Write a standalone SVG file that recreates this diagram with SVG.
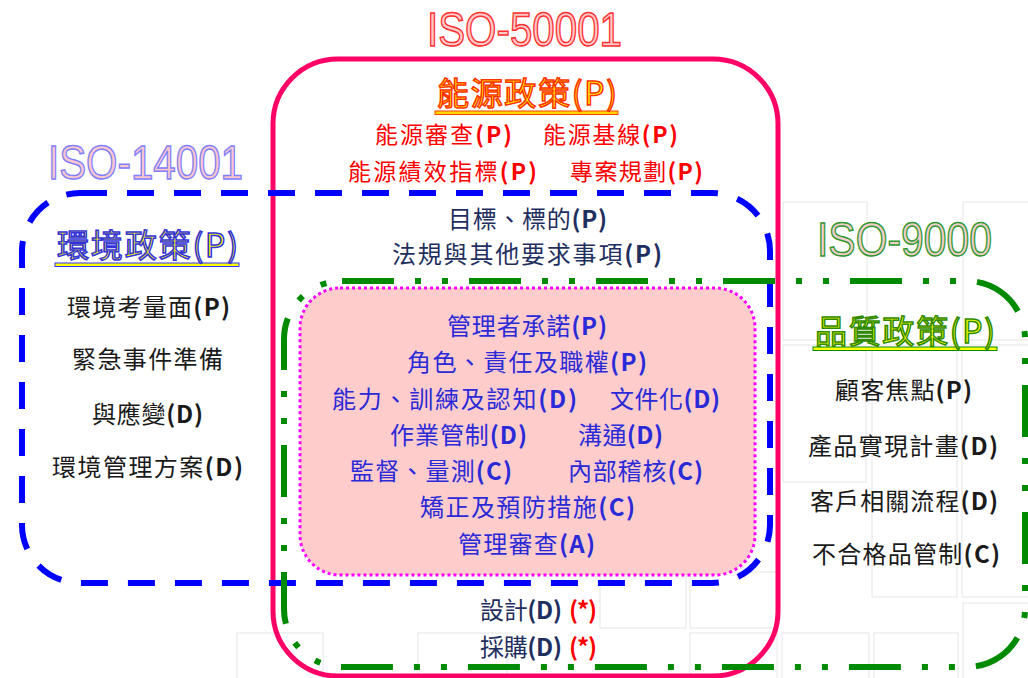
<svg xmlns="http://www.w3.org/2000/svg" width="1028" height="678" viewBox="0 0 1028 678">
<style>
.t{font-family:"Noto Sans CJK TC","Noto Sans CJK SC",sans-serif;font-size:24px}
.t tspan{font-weight:bold}
.big{font-family:"Liberation Sans",Arial,sans-serif;font-size:48px}
.head{font-family:"Noto Sans CJK TC","Noto Sans CJK SC",sans-serif;font-size:32px;fill:#FFFF00;stroke-width:1.5}
.red{fill:#FF0000}
.navy{fill:#1F2F60}
.blk{fill:#1a1a1a}
.blu{fill:#2A2AD8}
.grid{fill:none;stroke:#eeeeee;stroke-width:1.5}
</style>
<rect width="1028" height="678" fill="#FFFFFF"/>
<g id="background-grid">
<rect class="grid" x="783" y="202" width="84" height="138"/>
<rect class="grid" x="963" y="202" width="70" height="138"/>
<rect class="grid" x="783" y="345" width="83" height="137"/>
<rect class="grid" x="872" y="345" width="85" height="252"/>
<rect class="grid" x="962" y="345" width="70" height="252"/>
<rect class="grid" x="600" y="572" width="86" height="56" fill="#f4f3f2"/>
<rect class="grid" x="690" y="572" width="87" height="56"/>
<rect class="grid" x="237" y="633" width="86" height="50"/>
<rect class="grid" x="418" y="633" width="89" height="50"/>
<rect class="grid" x="690" y="633" width="87" height="50"/>
<rect class="grid" x="782" y="633" width="87" height="50"/>
<rect class="grid" x="874" y="633" width="84" height="50"/>
<rect class="grid" x="963" y="603" width="70" height="80"/>
</g>
<g id="connectors">
<rect id="iso50001-frame" x="273" y="59" width="505" height="617" rx="65" ry="65" fill="none" stroke="#FF0066" stroke-width="5"/>
<rect id="iso14001-frame" x="22" y="193" width="748" height="390" rx="58" ry="58" fill="none" stroke="#0000FF" stroke-width="6" stroke-dasharray="27 20"/>
<rect id="iso9000-frame" x="284" y="281" width="741" height="386" rx="58" ry="58" fill="none" stroke="#008A00" stroke-width="6" stroke-dasharray="52 21 6 21 6 21"/>
</g>
<g id="common-core">
<rect x="300" y="288" width="455" height="287" rx="40" ry="40" fill="#FFCCCC" stroke="#FF00FF" stroke-width="3" stroke-dasharray="3 3"/>
<text class="t blu" x="447" y="335" textLength="160">管理者承諾<tspan>(P)</tspan></text>
<text class="t blu" x="407" y="371" textLength="240">角色、責任及職權<tspan>(P)</tspan></text>
<text class="t blu" x="332" y="408" textLength="245">能力、訓練及認知<tspan>(D)</tspan></text>
<text class="t blu" x="610" y="408" textLength="110">文件化<tspan>(D)</tspan></text>
<text class="t blu" x="390" y="444" textLength="137">作業管制<tspan>(D)</tspan></text>
<text class="t blu" x="578" y="444" textLength="85">溝通<tspan>(D)</tspan></text>
<text class="t blu" x="350" y="480" textLength="162">監督、量測<tspan>(C)</tspan></text>
<text class="t blu" x="568" y="480" textLength="135">內部稽核<tspan>(C)</tspan></text>
<text class="t blu" x="420" y="516" textLength="215">矯正及預防措施<tspan>(C)</tspan></text>
<text class="t blu" x="458" y="553" textLength="137">管理審查<tspan>(A)</tspan></text>
</g>
<g id="iso50001">
<text class="big" x="427" y="46" textLength="195" lengthAdjust="spacingAndGlyphs" fill="#FFC8C8" stroke="#FF3030" stroke-width="1.5">ISO-50001</text>
<rect x="435" y="111" width="183" height="3.5" fill="#FFD700" stroke="#FF4500" stroke-width="1"/>
<text class="head" x="437" y="105" textLength="180" stroke="#FF3300">能源政策(P)</text>
<text class="t red" x="375" y="143" textLength="137" style="font-size:23px">能源審查<tspan>(P)</tspan></text>
<text class="t red" x="543" y="143" textLength="135" style="font-size:23px">能源基線<tspan>(P)</tspan></text>
<text class="t red" x="348" y="180" textLength="189" style="font-size:23px">能源績效指標<tspan>(P)</tspan></text>
<text class="t red" x="570" y="180" textLength="133" style="font-size:23px">專案規劃<tspan>(P)</tspan></text>
<text class="t navy" x="480" y="619" textLength="82">設計<tspan>(D)</tspan></text>
<text class="t red" x="569" y="619" textLength="28"><tspan>(*)</tspan></text>
<text class="t navy" x="480" y="656" textLength="82">採購<tspan>(D)</tspan></text>
<text class="t red" x="569" y="656" textLength="28"><tspan>(*)</tspan></text>
</g>
<g id="iso14001">
<text class="big" x="48" y="179" textLength="195" lengthAdjust="spacingAndGlyphs" fill="#FFC8C8" stroke="#8080FF" stroke-width="1.5">ISO-14001</text>
<rect x="55" y="263" width="184" height="3.5" fill="#FFFF00" stroke="#3333FF" stroke-width="1"/>
<text class="head" x="57" y="257" textLength="181" stroke="#3333DD">環境政策(P)</text>
<text class="t blk" x="67" y="316" textLength="163">環境考量面<tspan>(P)</tspan></text>
<text class="t blk" x="72" y="368" textLength="151">緊急事件準備</text>
<text class="t blk" x="92" y="423" textLength="111">與應變<tspan>(D)</tspan></text>
<text class="t blk" x="52" y="476" textLength="191">環境管理方案<tspan>(D)</tspan></text>
<text class="t navy" x="448" y="228" textLength="159">目標、標的<tspan>(P)</tspan></text>
<text class="t navy" x="392" y="263" textLength="270">法規與其他要求事項<tspan>(P)</tspan></text>
</g>
<g id="iso9000">
<text class="big" x="817" y="256" textLength="175" lengthAdjust="spacingAndGlyphs" fill="#F8CCCC" stroke="#2E9A2E" stroke-width="1.5">ISO-9000</text>
<rect x="813" y="347" width="184" height="3.5" fill="#FFFF00" stroke="#008A00" stroke-width="1"/>
<text class="head" x="815" y="343" textLength="180" stroke="#2E8B00">品質政策(P)</text>
<text class="t blk" x="835" y="399" textLength="137">顧客焦點<tspan>(P)</tspan></text>
<text class="t blk" x="808" y="455" textLength="190">產品實現計畫<tspan>(D)</tspan></text>
<text class="t blk" x="810" y="510" textLength="188">客戶相關流程<tspan>(D)</tspan></text>
<text class="t blk" x="812" y="563" textLength="188">不合格品管制<tspan>(C)</tspan></text>
</g>
</svg>
